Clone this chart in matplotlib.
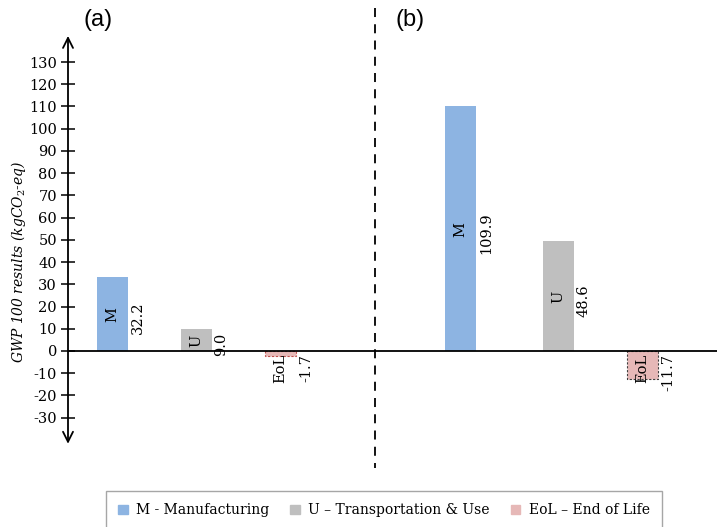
import matplotlib.pyplot as plt
from matplotlib.patches import Patch

# data
stages = ['M', 'U', 'EoL']
heights_a = [33.5, 9.8, -2.3]   # bar tops as drawn
heights_b = [110.0, 49.5, -12.8]
labels_a = ['32.2', '9.0', '-1.7']
labels_b = ['109.9', '48.6', '-11.7']
legend_names = ['M - Manufacturing', 'U \u2013 Transportation & Use', 'EoL \u2013 End of Life']
yticks = list(range(-30, 131, 10))

fill = ['#8db4e2', '#bfbfbf', '#e6b8b7']
edge = [None, None, '#c0504d']
edge_b = [None, None, '#404040']

plt.rcParams['font.family'] = ['DejaVu Serif']

fig = plt.figure(figsize=(7.17, 5.27), dpi=100)
ax = fig.add_axes([68/717, 1-451/527, 1-68/717, (451-28.7)/527])
ax.set_xlim(0, 649)
ax.set_ylim(-45, 145)

pos_a = [44.5, 128, 212.5]
pos_b = [392.5, 490.5, 574.5]
w = 31

def draw_group(pos, hts, labs, edges):
    for i in range(3):
        if edges[i] is None:
            ax.bar(pos[i], hts[i], width=w, color=fill[i], zorder=2)
        else:
            ax.bar(pos[i], hts[i], width=w, color=fill[i], edgecolor=edges[i],
                   linestyle=(0, (2, 1.5)), linewidth=0.8, zorder=2)
        if hts[i] > 0:
            ax.text(pos[i], hts[i]/2 - 0.5, stages[i], rotation=90, ha='center', va='center', fontsize=10.5)
            ax.text(pos[i]+w/2+3, hts[i]/2 - 2, labs[i], rotation=90, ha='left', va='center', fontsize=10.5)
        else:
            ax.text(pos[i], -1.3, stages[i], rotation=90, ha='center', va='top', fontsize=10.5)
            ax.text(pos[i]+w/2+3, -1.5, labs[i], rotation=90, ha='left', va='top', fontsize=10.5)

draw_group(pos_a, heights_a, labels_a, edge)
draw_group(pos_b, heights_b, labels_b, edge_b)

# axes
ax.axhline(0, color='black', lw=1.3, zorder=3)
ax.annotate('', xy=(0, 143), xytext=(0, -43),
            arrowprops=dict(arrowstyle='<->', lw=1.3, color='black', mutation_scale=18),
            annotation_clip=False)
ax.plot([307, 307], [154.5, -52.5], color='black', lw=1.3, linestyle=(0, (5, 4)), clip_on=False)

for s in ax.spines.values():
    s.set_visible(False)
ax.set_xticks([])
ax.set_yticks(yticks)
ax.set_yticklabels([str(t) for t in yticks], fontsize=10.5)
ax.tick_params(axis='y', direction='inout', length=10, width=1.1, pad=3)
ax.set_ylabel('GWP 100 results (kgCO$_2$-eq)', fontstyle='italic', fontsize=10)
ax.yaxis.label.set_math_fontfamily('dejavuserif')
ax.yaxis.set_label_coords(-0.062, 0.4475)

fig.text(98/717, 1-20/527, '(a)', fontsize=17, family='Liberation Sans', ha='center', va='center')
fig.text(410/717, 1-20/527, '(b)', fontsize=17, family='Liberation Sans', ha='center', va='center')

handles = [Patch(color=c) for c in fill]
leg = fig.legend(handles, legend_names, loc='upper center', bbox_to_anchor=(384/717, 1-484/527),
                 ncol=3, frameon=True, fancybox=False, fontsize=10, handlelength=0.7,
                 handleheight=0.7, handletextpad=0.6, columnspacing=1.5, borderpad=0.9)
leg.get_frame().set_edgecolor('#909090')
leg.get_frame().set_linewidth(1.0)

fig.savefig('out.png', dpi=100)
